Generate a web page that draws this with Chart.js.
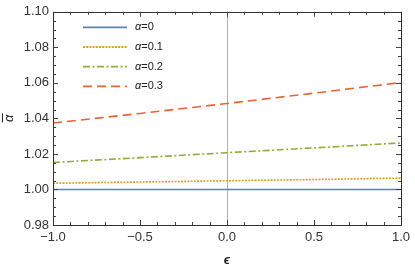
<!DOCTYPE html>
<html>
<head>
<meta charset="utf-8">
<script src="https://cdn.jsdelivr.net/npm/chart.js@4"></script>
<style>
  html, body { margin: 0; padding: 0; background: #fff; }
  #wrap { width: 415px; height: 268px; position: relative; }
</style>
</head>
<body>
<div id="wrap"><canvas id="chart"></canvas></div>
<script>
// data
const epsValues = [-1, -0.5, 0, 0.5, 1];
const alpha0 = [1.0000, 1.0000, 1.0000, 1.0000, 1.0000];
const alpha1 = [1.0035, 1.0042, 1.0049, 1.0056, 1.0064];
const alpha2 = [1.0152, 1.0179, 1.0207, 1.0234, 1.0262];
const alpha3 = [1.0374, 1.0428, 1.0484, 1.0542, 1.0602];
const seriesLabels = ['\u03b1=0', '\u03b1=0.1', '\u03b1=0.2', '\u03b1=0.3'];
const yMajorTicks = [0.98, 1.00, 1.02, 1.04, 1.06, 1.08, 1.10];
const xMajorTicks = [-1, -0.5, 0, 0.5, 1];

const colors = ['#5e81b5', '#e19c24', '#8fb032', '#eb6235'];
const dashes = [[], [2, 1.2], [7, 2.5, 2, 2.5], [9, 5]];
const FONT = '"Liberation Sans", Arial, sans-serif';

function pts(ys) {
    return epsValues.map((x, i) => ({ x: x, y: ys[i] }));
}

const allSeries = [alpha0, alpha1, alpha2, alpha3];
const datasets = allSeries.map((ys, i) => ({
    label: seriesLabels[i],
    data: pts(ys),
    borderColor: colors[i],
    borderWidth: 1.6,
    borderDash: dashes[i],
    pointRadius: 0,
    fill: false,
    tension: 0
}));

// frame, inside ticks, zero line, legend, y title
const framePlugin = {
    id: 'frame',
    beforeDatasetsDraw(chart) {
        const { ctx, chartArea: a, scales: { x } } = chart;
        ctx.save();
        ctx.strokeStyle = '#b0b0b0';
        ctx.lineWidth = 1;
        const zx = Math.round(x.getPixelForValue(0)) + 0.5;
        ctx.beginPath();
        ctx.moveTo(zx, a.top);
        ctx.lineTo(zx, a.bottom);
        ctx.stroke();
        ctx.restore();
    },
    afterDatasetsDraw(chart) {
        const { ctx, chartArea: a, scales: { x, y } } = chart;
        ctx.save();
        ctx.strokeStyle = '#444';
        ctx.lineWidth = 1;
        // x ticks
        for (let k = -10; k <= 10; k++) {
            const v = k / 10;
            const px = Math.round(x.getPixelForValue(v)) + 0.5;
            const len = (k % 5 === 0) ? 5 : 3;
            ctx.beginPath();
            ctx.moveTo(px, a.bottom); ctx.lineTo(px, a.bottom - len);
            ctx.moveTo(px, a.top); ctx.lineTo(px, a.top + len);
            ctx.stroke();
        }
        // y ticks
        for (let k = 0; k <= 24; k++) {
            const v = 0.98 + k * 0.005;
            const py = Math.round(y.getPixelForValue(v)) + 0.5;
            const len = (k % 4 === 0) ? 5 : 3;
            ctx.beginPath();
            ctx.moveTo(a.left, py); ctx.lineTo(a.left + len, py);
            ctx.moveTo(a.right, py); ctx.lineTo(a.right - len, py);
            ctx.stroke();
        }
        ctx.strokeStyle = '#333';
        ctx.strokeRect(Math.round(a.left) + 0.5, Math.round(a.top) + 0.5,
            Math.round(a.right - a.left), Math.round(a.bottom - a.top));

        // legend
        chart.data.datasets.forEach((ds, i) => {
            const ly = a.top + 15.5 + i * 19.7;
            ctx.strokeStyle = ds.borderColor;
            ctx.lineWidth = 1.8;
            ctx.setLineDash(ds.borderDash);
            ctx.beginPath();
            ctx.moveTo(a.left + 30, ly);
            ctx.lineTo(a.left + 74, ly);
            ctx.stroke();
            ctx.setLineDash([]);
            ctx.fillStyle = '#222';
            ctx.textBaseline = 'middle';
            ctx.font = 'italic 11px ' + FONT;
            ctx.fillText('\u03b1', a.left + 82, ly);
            const w = ctx.measureText('\u03b1').width;
            ctx.font = '11px ' + FONT;
            ctx.fillText(ds.label.slice(1), a.left + 82 + w, ly);
        });

        // y axis title: alpha with an overline, rotated
        ctx.translate(8, (a.top + a.bottom) / 2);
        ctx.rotate(-Math.PI / 2);
        ctx.font = 'italic 13px ' + FONT;
        ctx.fillStyle = '#222';
        ctx.textAlign = 'center';
        ctx.textBaseline = 'middle';
        ctx.fillText('\u03b1', 0, 1);
        ctx.strokeStyle = '#222';
        ctx.lineWidth = 1;
        ctx.beginPath();
        ctx.moveTo(-4, -5.5);
        ctx.lineTo(5, -5.5);
        ctx.stroke();
        ctx.restore();
    }
};

new Chart(document.getElementById('chart'), {
    type: 'line',
    data: { datasets: datasets },
    options: {
        responsive: true,
        maintainAspectRatio: false,
        animation: false,
        layout: { padding: { left: 0, right: 11, top: 7, bottom: 0 } },
        plugins: {
            legend: { display: false },
            tooltip: { enabled: false }
        },
        scales: {
            x: {
                type: 'linear',
                min: -1,
                max: 1,
                afterBuildTicks(scale) {
                    scale.ticks = xMajorTicks.map(v => ({ value: v }));
                },
                afterFit(scale) { scale.height = 43; },
                grid: { display: false, drawTicks: false },
                border: { display: false },
                ticks: {
                    color: '#333',
                    font: { family: FONT, size: 13 },
                    padding: 5,
                    maxRotation: 0,
                    callback: v => (v < 0 ? '\u2212' : '') + Math.abs(v).toFixed(1)
                },
                title: {
                    display: true,
                    text: '\u03f5',
                    color: '#222',
                    font: { family: FONT, size: 13, weight: 'bold', style: 'italic' },
                    padding: { top: 0, bottom: 0 }
                }
            },
            y: {
                min: 0.98,
                max: 1.10,
                afterBuildTicks(scale) {
                    scale.ticks = yMajorTicks.map(v => ({ value: v }));
                },
                afterFit(scale) { scale.width = 53; },
                grid: { display: false, drawTicks: false },
                border: { display: false },
                ticks: {
                    color: '#333',
                    font: { family: FONT, size: 13 },
                    padding: 4,
                    callback: v => v.toFixed(2)
                },
                title: { display: false }
            }
        }
    },
    plugins: [framePlugin]
});
</script>
</body>
</html>
